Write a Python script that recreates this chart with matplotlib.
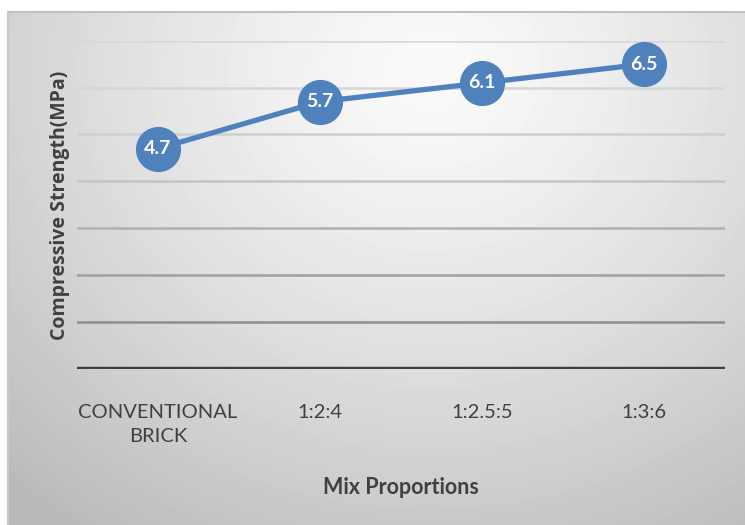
import numpy as np
import matplotlib.pyplot as plt

# values
categories = ['CONVENTIONAL\nBRICK', '1:2:4', '1:2.5:5', '1:3:6']
strength = [4.7, 5.7, 6.1, 6.5]
y_ticks = [0, 1, 2, 3, 4, 5, 6, 7]

W, H = 745, 525
fig = plt.figure(figsize=(W / 100, H / 100), dpi=100)

# radial gray gradient behind the chart (office style chart area)
bg = fig.add_axes([8 / W, 0, 1 - 8 / W, (H - 12) / H])
yy, xx = np.mgrid[12:H, 8:W]
d = np.sqrt(((xx - 430) / 520.0) ** 2 + ((yy - 70) / 470.0) ** 2)
shade = 0.98 - 0.2 * np.clip(d, 0, 1.2) ** 1.3
bg.imshow(shade, cmap='gray', vmin=0, vmax=1, aspect='auto',
          extent=[0, 1, 0, 1], interpolation='bilinear')
bg.set_xlim(0, 1)
bg.set_ylim(0, 1)
bg.axis('off')
bg.plot([0, 1], [1, 1], color='#c0c0c0', lw=1.5, clip_on=False)
bg.plot([0, 0], [0, 1], color='#c8c8c8', lw=1.5, clip_on=False)

ax = fig.add_axes([77 / W, (H - 369) / H, (725 - 77) / W, (369 - 40.7) / H])
ax.patch.set_alpha(0)
x = np.arange(len(categories))

# gridlines, lighter near the top like in the picture
grid_cols = ['#8e8e8e', '#8e8e8e', '#a0a0a0', '#b0b0b0', '#c4c4c4', '#cfcfcf', '#d6d6d6', '#d8d8d8']
for t, c in zip(y_ticks[1:], grid_cols[1:]):
    ax.axhline(t, color=c, lw=1.8, zorder=1)
ax.axhline(0, color='#3f3f3f', lw=3.2, zorder=2)

ax.plot(x, strength, color='#4f81bd', lw=3.8, marker='o', ms=31.5,
        markerfacecolor='#4f81bd', markeredgecolor='#4f81bd', zorder=3)
for xi, v in zip(x, strength):
    ax.text(xi, v, f'{v}', ha='center', va='center', color='white',
            fontsize=14, fontweight='bold', family='Lato', zorder=4)

ax.set_xlim(-0.5, len(categories) - 0.5)
ax.set_ylim(0, 7)
ax.set_yticks([])
ax.set_xticks(x)
ax.set_xticklabels(categories, fontsize=14.5, family='Lato', color='#404040',
                   linespacing=1.5)
ax.tick_params(axis='x', length=0, pad=25)
for s in ax.spines.values():
    s.set_visible(False)

fig.text(60 / W, 1 - 205 / H, 'Compressive Strength(MPa)', rotation=90,
         ha='center', va='center', fontsize=14, fontweight='bold',
         family='Open Sans', color='#404040')
fig.text(401 / W, 1 - 487 / H, 'Mix Proportions', ha='center', va='center',
         fontsize=15.5, fontweight='bold', family='Lato', color='#404040')

fig.savefig('out.png', dpi=100)
